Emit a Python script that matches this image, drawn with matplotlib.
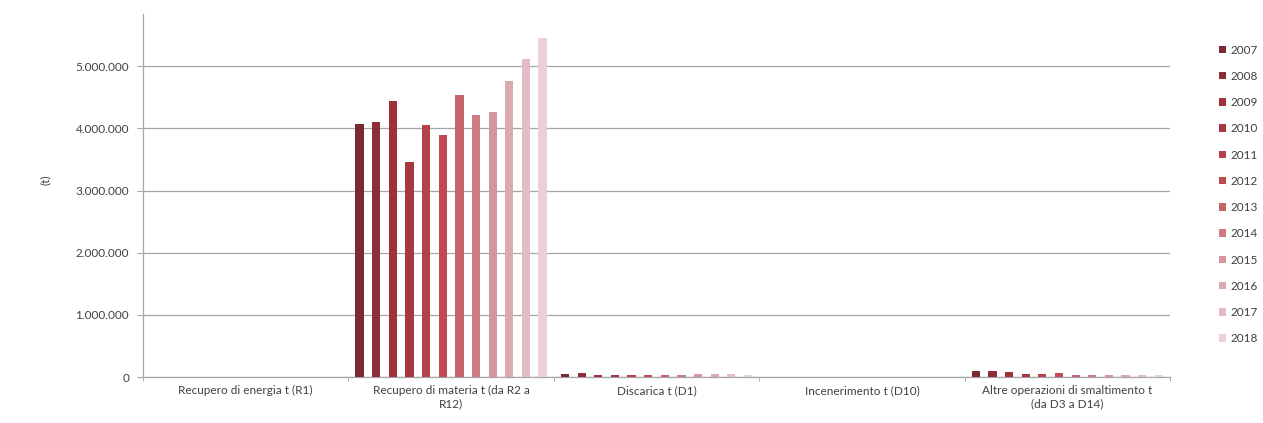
import numpy as np
import matplotlib
matplotlib.use('Agg')
import matplotlib.pyplot as plt
from matplotlib.ticker import FuncFormatter

plt.rcParams['font.family'] = ['Lato', 'DejaVu Sans']

# Categories and yearly series (tonnes)
categories = ['Recupero di energia t (R1)',
              'Recupero di materia t (da R2 a\nR12)',
              'Discarica t (D1)',
              'Incenerimento t (D10)',
              'Altre operazioni di smaltimento t\n(da D3 a D14)']
years = ['2007', '2008', '2009', '2010', '2011', '2012',
         '2013', '2014', '2015', '2016', '2017', '2018']

v2007 = [0, 4070000, 55000, 0, 100000]
v2008 = [0, 4100000, 60000, 0, 90000]
v2009 = [0, 4440000, 25000, 0, 85000]
v2010 = [0, 3460000, 35000, 0, 50000]
v2011 = [0, 4060000, 40000, 0, 50000]
v2012 = [0, 3890000, 30000, 0, 70000]
v2013 = [0, 4540000, 30000, 0, 30000]
v2014 = [0, 4220000, 35000, 0, 30000]
v2015 = [0, 4270000, 55000, 0, 30000]
v2016 = [0, 4760000, 50000, 0, 40000]
v2017 = [0, 5110000, 45000, 0, 35000]
v2018 = [0, 5460000, 25000, 0, 25000]
series = [v2007, v2008, v2009, v2010, v2011, v2012,
          v2013, v2014, v2015, v2016, v2017, v2018]

colors = ['#7a2a33', '#8c2e37', '#9e323b', '#a8383f', '#b54248', '#c04a50',
          '#c8636a', '#cd7c84', '#d4959c', '#dbaab1', '#e3bdc3', '#ecd0d5']

fig = plt.figure(figsize=(12.63, 4.23), dpi=100)
ax = fig.add_axes([0.1132, 0.1087, 0.8132, 0.858])

x = np.arange(len(categories))
slot = 0.081
width = 0.040
for i, (yr, vals) in enumerate(zip(years, series)):
    offs = (i - 5.5) * slot
    ax.bar(x + offs, vals, width=width, color=colors[i], label=yr, zorder=3)

ax.set_xlim(-0.5, len(categories) - 0.5)
ax.set_ylim(0, 5840000)
ax.set_yticks(np.arange(0, 5000001, 1000000))
ax.yaxis.set_major_formatter(FuncFormatter(lambda v, p: f'{int(v):,}'.replace(',', '.')))
ax.grid(axis='y', color='#a6a6a6', linewidth=0.9, zorder=0)

ax.set_xticks(x)
ax.set_xticklabels(categories, fontsize=8.5, color='#404040')
ax.set_xticks(np.arange(-0.5, len(categories), 1), minor=True)
ax.tick_params(axis='x', which='major', length=0, pad=6)
ax.tick_params(axis='x', which='minor', length=3, color='#a6a6a6')
ax.tick_params(axis='y', length=4, color='#a6a6a6', labelsize=8.5, labelcolor='#404040', pad=6)

for s in ['top', 'right']:
    ax.spines[s].set_visible(False)
for s in ['left', 'bottom']:
    ax.spines[s].set_color('#a6a6a6')
    ax.spines[s].set_linewidth(0.9)

fig.text(0.036, 0.575, '(t)', rotation=90, fontsize=8.5, color='#404040',
         ha='center', va='center')

leg = ax.legend(loc='upper left', bbox_to_anchor=(1.037, 0.945), frameon=False,
                fontsize=8.5, handlelength=0.6, handleheight=0.6,
                labelspacing=1.29, handletextpad=0.4)
for t in leg.get_texts():
    t.set_color('#404040')

plt.savefig('out.png', dpi=100)
